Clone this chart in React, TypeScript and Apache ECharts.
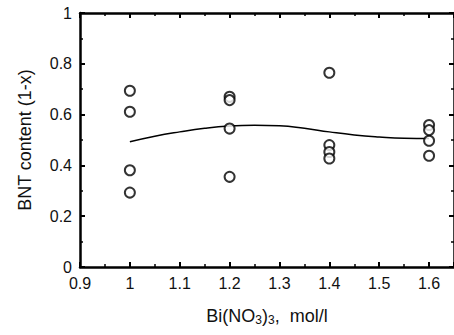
import React, { useEffect, useRef } from "react";
import * as echarts from "echarts";

// Measured BNT content at each Bi(NO3)3 concentration
const concentrations = [1.0, 1.0, 1.0, 1.0, 1.2, 1.2, 1.2, 1.2, 1.4, 1.4, 1.4, 1.4, 1.6, 1.6, 1.6, 1.6];
const bntContent = [0.694, 0.611, 0.381, 0.293, 0.67, 0.657, 0.545, 0.355, 0.765, 0.48, 0.453, 0.427, 0.559, 0.539, 0.497, 0.438];

// Trend curve through the measurements
const trendX = [1.0, 1.05, 1.1, 1.15, 1.2, 1.25, 1.3, 1.35, 1.4, 1.45, 1.5, 1.55, 1.6];
const trendY = [0.493, 0.515, 0.532, 0.546, 0.555, 0.558, 0.556, 0.546, 0.532, 0.52, 0.512, 0.507, 0.506];

const FONT = "Liberation Sans, Arial, sans-serif";

function frame(extra: Record<string, unknown>) {
  return {
    type: "value",
    axisLine: { show: true, onZero: false, lineStyle: { color: "#000", width: 2.5 } },
    axisTick: { show: true, inside: true, length: 5, lineStyle: { color: "#000", width: 2 } },
    minorTick: { show: true, splitNumber: 2, length: 3, lineStyle: { color: "#000", width: 1.5 } },
    splitLine: { show: false },
    ...extra,
  };
}

export default function App() {
  const ref = useRef<HTMLDivElement>(null);

  useEffect(() => {
    if (!ref.current) return;
    const chart = echarts.init(ref.current, undefined, { renderer: "svg" });

    const label = { color: "#111", fontSize: 16, fontFamily: FONT, margin: 8 };

    chart.setOption({
      animation: false,
      backgroundColor: "#fff",
      grid: { left: 80, top: 13, right: -4, bottom: 68 },
      xAxis: [
        frame({
          position: "bottom",
          min: 0.9,
          max: 1.65,
          interval: 0.1,
          axisLabel: { ...label, showMaxLabel: false },
          name: "{a|Bi(NO}{s|3}{a|)}{s|3}{a|,  mol/l}",
          nameLocation: "middle",
          nameGap: 38,
          nameTextStyle: {
            rich: {
              a: { fontSize: 18, fontFamily: FONT, color: "#111" },
              s: { fontSize: 12, fontFamily: FONT, color: "#111", padding: [9, 0, 0, 0] },
            },
          },
        }),
        frame({
          position: "top",
          min: 0.9,
          max: 1.65,
          interval: 0.1,
          axisLabel: { show: false },
        }),
      ],
      yAxis: [
        frame({
          position: "left",
          min: 0,
          max: 1,
          interval: 0.2,
          axisLabel: label,
          name: "BNT content (1-x)",
          nameLocation: "middle",
          nameGap: 46,
          nameTextStyle: { fontSize: 18, fontFamily: FONT, color: "#111" },
        }),
        frame({
          position: "right",
          min: 0,
          max: 1,
          interval: 0.2,
          axisLabel: { show: false },
        }),
      ],
      series: [
        {
          type: "line",
          data: trendX.map((x, i) => [x, trendY[i]]),
          smooth: true,
          showSymbol: false,
          lineStyle: { color: "#000", width: 1.5 },
          z: 2,
        },
        {
          type: "scatter",
          data: concentrations.map((x, i) => [x, bntContent[i]]),
          symbol: "circle",
          symbolSize: 10,
          itemStyle: { color: "#fff", borderColor: "#000", borderWidth: 2 },
          z: 3,
        },
      ],
    });

    return () => chart.dispose();
  }, []);

  return <div ref={ref} style={{ width: 454, height: 335, position: "absolute", left: 0, top: 0 }} />;
}
